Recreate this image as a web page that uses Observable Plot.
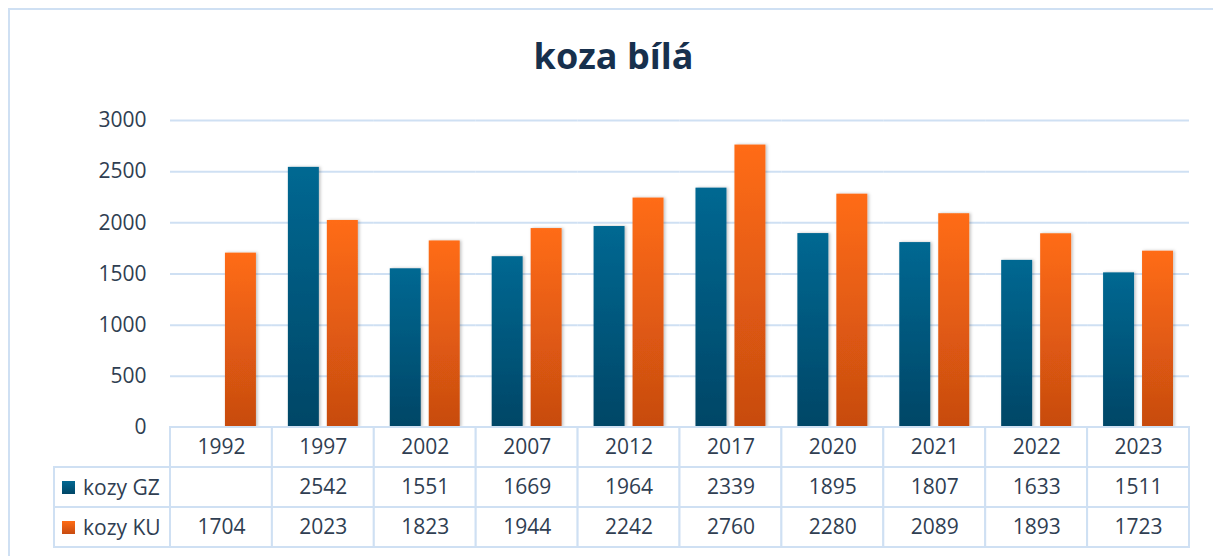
<!DOCTYPE html>
<html><head><meta charset="utf-8">
<script src="https://cdn.jsdelivr.net/npm/d3@7"></script>
<script src="https://cdn.jsdelivr.net/npm/@observablehq/plot@0.6"></script>
<style>
html,body{margin:0;padding:0;background:#fff;font-family:"Open Sans",sans-serif;overflow:hidden;width:1213px;height:556px;}
#wrap{position:relative;width:1213px;height:556px;overflow:hidden;background:#fff;}
#ftop{position:absolute;left:8px;top:8px;width:1205px;height:2px;background:#cfe0f3;}
#fleft{position:absolute;left:8px;top:8px;width:2px;height:548px;background:#cfe0f3;}
#title{position:absolute;left:0;width:1213px;padding-left:14px;box-sizing:border-box;top:32px;text-align:center;font-size:36px;font-weight:700;color:#17304d;line-height:48px;}
#bars{position:absolute;left:0;top:0;width:1213px;}
#table{position:absolute;left:0;top:427px;width:1213px;}
svg{overflow:visible;max-width:none !important;}
.lab{position:absolute;left:53px;width:119px;border:2px solid #cfe0f3;box-sizing:border-box;font-size:21px;color:#2f3e52;display:flex;align-items:center;background:#fff;}
.sw{width:13px;height:13px;margin-left:7px;margin-right:8px;}
</style>
</head><body>
<div id="wrap">
  <div id="ftop"></div>
  <div id="fleft"></div>
  <div id="title"></div>
  <div id="bars"></div>
  <div id="labels"></div>
  <div id="table"></div>
</div>
<script>
const title = "koza bílá";
const years = ["1992","1997","2002","2007","2012","2017","2020","2021","2022","2023"];
const seriesNames = ["kozy GZ","kozy KU"];
const gz = [null,2542,1551,1669,1964,2339,1895,1807,1633,1511];
const ku = [1704,2023,1823,1944,2242,2760,2280,2089,1893,1723];
const yTicks = [0,500,1000,1500,2000,2500,3000];
const seriesValues = [gz, ku];
const gradIds = ["gBlue","gOrange"];

document.getElementById("title").textContent = title;

const rows = [];
seriesNames.forEach((s, si) => years.forEach((y, i) => rows.push({year: y, series: s, value: seriesValues[si][i]})));

const textColor = "#2f3e52";
const gridColor = "#cfe0f3";

const bars = Plot.plot({
  width: 1213, height: 428,
  marginLeft: 170, marginRight: 24, marginTop: 120, marginBottom: 1,
  style: {fontFamily: "Open Sans, sans-serif", fontSize: "21px", color: textColor, overflow: "visible", background: "transparent"},
  fx: {domain: years, padding: 0, round: false, axis: null},
  x: {domain: seriesNames, paddingInner: 0.205, paddingOuter: 0.41, round: false, axis: null},
  y: {domain: [0, 3000], axis: null},
  color: {type: "ordinal", domain: seriesNames, range: gradIds.map(g => `url(#${g})`)},
  marks: [
    Plot.ruleY(yTicks, {stroke: gridColor, strokeWidth: 2}),
    Plot.axisY(yTicks, {tickSize: 0, tickPadding: 24, fontSize: 21, fill: textColor, label: null, tickFormat: d => String(d)}),
    Plot.barY(rows.filter(d => d.value != null), {fx: "year", x: "series", y: "value", fill: "series"})
  ]
});
document.getElementById("bars").appendChild(bars);

const defs = d3.select(bars).insert("defs", ":first-child");
const g1 = defs.append("linearGradient").attr("id", "gBlue").attr("x1", 0).attr("y1", 0).attr("x2", 0).attr("y2", 1);
g1.append("stop").attr("offset", "0%").attr("stop-color", "#026892");
g1.append("stop").attr("offset", "100%").attr("stop-color", "#004666");
const g2 = defs.append("linearGradient").attr("id", "gOrange").attr("x1", 0).attr("y1", 0).attr("x2", 0).attr("y2", 1);
g2.append("stop").attr("offset", "0%").attr("stop-color", "#ff6c15");
g2.append("stop").attr("offset", "100%").attr("stop-color", "#c74b10");
const f = defs.append("filter").attr("id", "sh").attr("x", "-20%").attr("y", "-5%").attr("width", "150%").attr("height", "110%");
f.append("feDropShadow").attr("dx", 1.5).attr("dy", 0).attr("stdDeviation", 1.5).attr("flood-color", "#000").attr("flood-opacity", 0.25);
d3.select(bars).selectAll("g[aria-label='bar'] rect").attr("filter", "url(#sh)");

// data table below the chart
const cells = years.map(y => ({year: y, row: "header", label: y}));
rows.forEach(d => cells.push({year: d.year, row: d.series, label: d.value == null ? "" : String(d.value)}));

const table = Plot.plot({
  width: 1213, height: 120,
  marginLeft: 170, marginRight: 24, marginTop: 0, marginBottom: 0,
  style: {fontFamily: "Open Sans, sans-serif", fontSize: "21px", color: textColor, overflow: "visible", background: "transparent"},
  x: {domain: years, padding: 0, round: false, axis: null},
  y: {domain: ["header", ...seriesNames], padding: 0, round: false, axis: null},
  marks: [
    Plot.cell(cells, {x: "year", y: "row", fill: "white", stroke: gridColor, strokeWidth: 2, inset: 0}),
    Plot.text(cells, {x: "year", y: "row", text: "label", fontSize: 21, fill: textColor})
  ]
});
document.getElementById("table").appendChild(table);

// left column with series legend
const labels = document.getElementById("labels");
const rowH = 40;
seriesNames.forEach((s, i) => {
  const div = document.createElement("div");
  div.className = "lab";
  div.style.top = (427 + rowH * (i + 1) - 1) + "px";
  div.style.height = (rowH + 2) + "px";
  const sw = document.createElement("span");
  sw.className = "sw";
  sw.style.background = i === 0 ? "linear-gradient(#026892,#004666)" : "linear-gradient(#ff6c15,#c74b10)";
  div.appendChild(sw);
  div.appendChild(document.createTextNode(s));
  labels.appendChild(div);
});
</script>
</body></html>
